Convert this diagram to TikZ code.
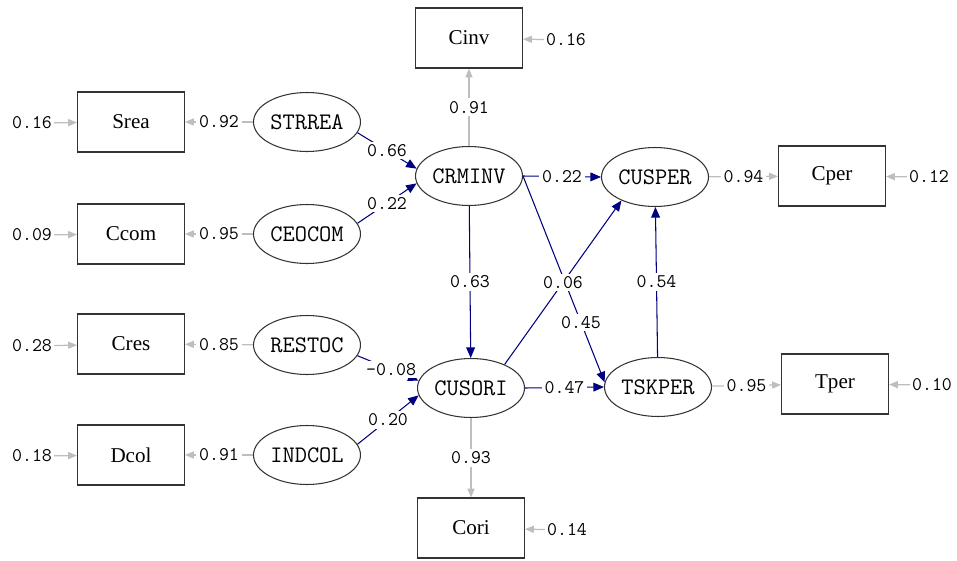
\documentclass[tikz,border=0pt]{standalone}
\usepackage{fontspec}
\setmainfont{Liberation Serif}
\usetikzlibrary{shapes.geometric,arrows.meta}

\definecolor{pathblue}{RGB}{0,0,128}
\definecolor{loadgray}{RGB}{190,190,190}

\begin{document}
\begin{tikzpicture}[x=0.02cm,y=-0.02cm,
  obs/.style={draw=black!80,line width=0.6pt,minimum width=2.14cm,minimum height=1.2cm,font=\fontsize{12}{14}\selectfont},
  lat/.style={ellipse,draw=black!80,line width=0.6pt,minimum width=2.14cm,minimum height=1.18cm,inner sep=0pt,font=\ttfamily\fontsize{13.5}{15}\selectfont},
  num/.style={font=\ttfamily\fontsize{11}{12}\selectfont,fill=white,inner sep=1.5pt},
  errnum/.style={font=\ttfamily\fontsize{11}{12}\selectfont,inner sep=1pt},
  struct/.style={draw=pathblue,line width=0.6pt,-{Triangle[length=6pt,width=5pt]}},
  load/.style={draw=loadgray,line width=0.7pt,-{Triangle[length=5pt,width=4pt]}},
  err/.style={draw=loadgray,line width=0.7pt,-{Triangle[length=5pt,width=4pt]}}]

\useasboundingbox (0,0) rectangle (957,561);

% observed variables
\node[obs] (Srea) at (131,122) {Srea};
\node[obs] (Ccom) at (131,234) {Ccom};
\node[obs] (Cres) at (131,344) {Cres};
\node[obs] (Dcol) at (131,455) {Dcol};
\node[obs] (Cinv) at (469,38) {Cinv};
\node[obs] (Cori) at (471,528) {Cori};
\node[obs] (Cper) at (832,176) {Cper};
\node[obs] (Tper) at (835,384) {Tper};

% latent variables
\node[lat] (STRREA) at (307,122) {STRREA};
\node[lat] (CEOCOM) at (307,234) {CEOCOM};
\node[lat] (RESTOC) at (307,345) {RESTOC};
\node[lat] (INDCOL) at (307,455) {INDCOL};
\node[lat] (CRMINV) at (469,176) {CRMINV};
\node[lat] (CUSORI) at (471,388) {CUSORI};
\node[lat] (CUSPER) at (655,177) {CUSPER};
\node[lat] (TSKPER) at (658,387) {TSKPER};

% error terms
\node[errnum] (eSrea) at (32,123) {0.16};
\node[errnum] (eCcom) at (32,235) {0.09};
\node[errnum] (eCres) at (32,346) {0.28};
\node[errnum] (eDcol) at (32,456) {0.18};
\node[errnum] (eCinv) at (566,40) {0.16};
\node[errnum] (eCori) at (567,530) {0.14};
\node[errnum] (eCper) at (929,177) {0.12};
\node[errnum] (eTper) at (932,385) {0.10};

\draw[err] (eSrea) -- (Srea);
\draw[err] (eCcom) -- (Ccom);
\draw[err] (eCres) -- (Cres);
\draw[err] (eDcol) -- (Dcol);
\draw[err] (eCinv) -- (Cinv);
\draw[err] (eCori) -- (Cori);
\draw[err] (eCper) -- (Cper);
\draw[err] (eTper) -- (Tper);

% loadings
\draw[load] (STRREA) -- node[num] {0.92} (Srea);
\draw[load] (CEOCOM) -- node[num] {0.95} (Ccom);
\draw[load] (RESTOC) -- node[num] {0.85} (Cres);
\draw[load] (INDCOL) -- node[num] {0.91} (Dcol);
\draw[load] (CRMINV) -- node[num] {0.91} (Cinv);
\draw[load] (CUSORI) -- node[num] {0.93} (Cori);
\draw[load] (CUSPER) -- node[num] {0.94} (Cper);
\draw[load] (TSKPER) -- node[num] {0.95} (Tper);

% structural paths
\draw[struct] (STRREA.-12) -- node[num] {0.66} (CRMINV.172);
\draw[struct] (CEOCOM.12) -- node[num] {0.22} (CRMINV.188);
\draw[struct] (RESTOC.-12) -- node[num,pos=0.55] {-0.08} (CUSORI.172);
\draw[struct] (INDCOL.12) -- node[num] {0.20} (CUSORI.188);
\draw[struct] (CRMINV) -- node[num] {0.63} (CUSORI);
\draw[struct] (CRMINV.east) -- node[num] {0.22} (CUSPER.west);
\draw[struct] (CRMINV.east) -- node[num,pos=0.71] {0.45} (TSKPER.175);
\draw[struct] (CUSORI.35) -- node[num,pos=0.5] {0.06} (CUSPER.215);
\draw[struct] (CUSORI.east) -- node[num] {0.47} (TSKPER.west);
\draw[struct] (TSKPER) -- node[num] {0.54} (CUSPER);

\end{tikzpicture}
\end{document}
